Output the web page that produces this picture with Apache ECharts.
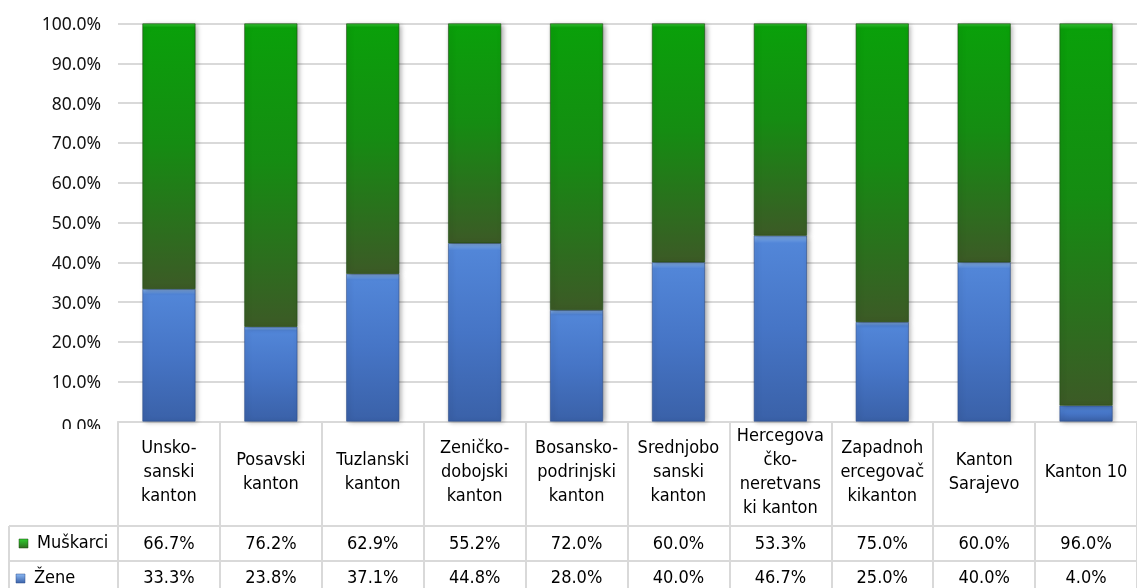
<!DOCTYPE html>
<html>
<head>
<meta charset="utf-8">
<script src="https://cdn.jsdelivr.net/npm/echarts@6/dist/echarts.min.js"></script>
<style>
html,body{margin:0;padding:0;background:#fff;}
#c{width:1137px;height:588px;}
</style>
</head>
<body>
<div id="c"></div>
<script>
const categories = ['Unsko-\nsanski\nkanton', 'Posavski\nkanton', 'Tuzlanski\nkanton', 'Zeničko-\ndobojski\nkanton', 'Bosansko-\npodrinjski\nkanton', 'Srednjobo\nsanski\nkanton', 'Hercegova\nčko-\nneretvans\nki kanton', 'Zapadnoh\nercegovač\nkikanton', 'Kanton\nSarajevo', 'Kanton 10'];
const seriesNames = ['Muškarci', 'Žene'];
const muskarci = [66.7, 76.2, 62.9, 55.2, 72.0, 60.0, 53.3, 75.0, 60.0, 96.0];
const zene = [33.3, 23.8, 37.1, 44.8, 28.0, 40.0, 46.7, 25.0, 40.0, 4.0];
const yMin = 0, yMax = 100, yStep = 10;

const gridCol = '#d9d9d9';
const tableFont = 'DejaVu Sans Condensed';
const chart = echarts.init(document.getElementById('c'));

const greenFill = new echarts.graphic.LinearGradient(0, 0, 0, 1, [
  {offset: 0, color: '#35c435'},
  {offset: 0.015, color: '#0aa00a'},
  {offset: 0.45, color: '#158c12'},
  {offset: 1, color: '#3c5a26'}
]);
const blueFill = new echarts.graphic.LinearGradient(0, 0, 0, 1, [
  {offset: 0, color: '#8cbaf5'},
  {offset: 0.04, color: '#5286d8'},
  {offset: 0.5, color: '#4675c6'},
  {offset: 1, color: '#3a61a8'}
]);

const shadow = {shadowColor: 'rgba(0,0,0,0.35)', shadowBlur: 5, shadowOffsetX: 2, shadowOffsetY: 1};

function valueAxis(offset, values, margin) {
  return {
    type: 'category', data: categories, position: 'bottom', offset: offset,
    axisLine: {show: true, lineStyle: {color: gridCol, width: 2}},
    axisTick: {show: true, length: 35, interval: 0, lineStyle: {color: gridCol, width: 2}},
    axisLabel: {interval: 0, margin: margin, verticalAlign: 'middle', fontSize: 18, fontFamily: tableFont, color: '#000',
      formatter: (v, i) => values[i].toFixed(1) + '%'}
  };
}

chart.setOption({
  animation: false,
  grid: {left: 118, right: 0, top: 23.5, bottom: 166.5, containLabel: false},
  xAxis: [
    {
      type: 'category', data: categories, position: 'bottom',
      axisLine: {show: true, lineStyle: {color: gridCol, width: 2}},
      axisTick: {show: true, length: 104, interval: 0, lineStyle: {color: gridCol, width: 2}},
      axisLabel: {interval: 0, margin: 51, verticalAlign: 'middle', lineHeight: 24, fontSize: 18, fontFamily: tableFont, color: '#000'}
    },
    valueAxis(104.5, muskarci, 18),
    valueAxis(139.5, zene, 17)
  ],
  yAxis: {
    type: 'value', min: yMin, max: yMax, interval: yStep,
    axisLine: {show: false}, axisTick: {show: false},
    axisLabel: {
      formatter: v => v === yMin ? '{z|' + v.toFixed(1) + '%}' : '{n|' + v.toFixed(1) + '%}',
      fontSize: 17.5, fontFamily: 'Noto Sans', color: '#111', margin: 17,
      rich: {
        n: {fontSize: 17.5, fontFamily: 'Noto Sans', color: '#111', padding: [3, 0, 0, 0]},
        z: {fontSize: 17.5, fontFamily: 'Noto Sans', color: '#111', padding: [12, 0, 0, 0]}
      }
    },
    splitLine: {lineStyle: {color: gridCol, width: 2}}
  },
  series: [
    {name: seriesNames[1], type: 'bar', stack: 'total', barWidth: 53, data: zene,
     itemStyle: Object.assign({color: blueFill, borderColor: '#2f4f8a', borderWidth: 0.6}, shadow)},
    {name: seriesNames[0], type: 'bar', stack: 'total', barWidth: 53, data: muskarci,
     itemStyle: Object.assign({color: greenFill, borderColor: '#1e4a12', borderWidth: 0.6}, shadow)}
  ],
  graphic: [
    {type: 'rect', z: 100, shape: {x: 0, y: 429, width: 116, height: 96}, style: {fill: '#fff'}},
    {type: 'line', z: 100, shape: {x1: 9, y1: 526, x2: 118, y2: 526}, style: {stroke: gridCol, lineWidth: 2}},
    {type: 'line', z: 100, shape: {x1: 9, y1: 561, x2: 118, y2: 561}, style: {stroke: gridCol, lineWidth: 2}},
    {type: 'line', z: 100, shape: {x1: 9, y1: 526, x2: 9, y2: 588}, style: {stroke: gridCol, lineWidth: 2}},
    {type: 'rect', z: 100, shape: {x: 19, y: 539, width: 9, height: 9},
     style: {fill: new echarts.graphic.LinearGradient(0, 0, 0, 1, [{offset: 0, color: '#2fd02f'}, {offset: 1, color: '#2e6a1e'}]), stroke: '#1e4a12', lineWidth: 0.5}},
    {type: 'text', z: 100, x: 37, y: 543, style: {text: seriesNames[0], fontSize: 18, fontFamily: tableFont, fill: '#000', verticalAlign: 'middle'}},
    {type: 'rect', z: 100, shape: {x: 16, y: 574, width: 9, height: 9},
     style: {fill: new echarts.graphic.LinearGradient(0, 0, 0, 1, [{offset: 0, color: '#8cbaf5'}, {offset: 1, color: '#3a61a8'}]), stroke: '#2f4f8a', lineWidth: 0.5}},
    {type: 'text', z: 100, x: 34, y: 578, style: {text: seriesNames[1], fontSize: 18, fontFamily: tableFont, fill: '#000', verticalAlign: 'middle'}}
  ]
});
</script>
</body>
</html>
